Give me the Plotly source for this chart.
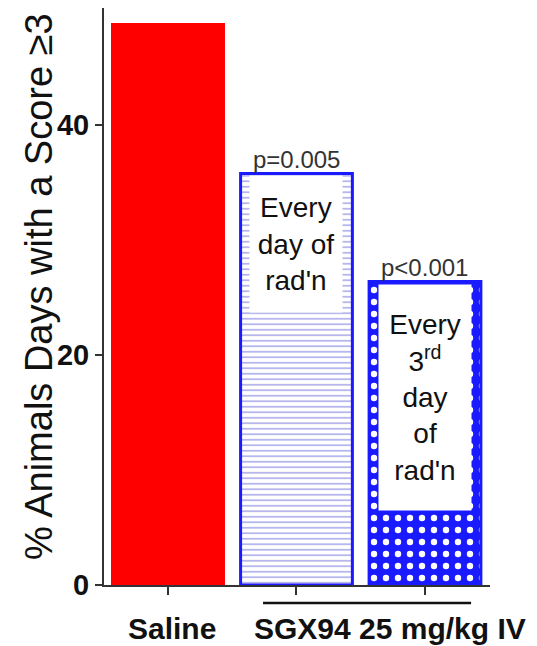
import plotly.graph_objects as go

# ---- data ----
categories = ["Saline", "SGX94 every day", "SGX94 every 3rd day"]
values = [48.9, 35.8, 26.4]
p_labels = ["", "p=0.005", "p<0.001"]
box_texts = ["", "Every<br>day of<br>rad'n", "Every<br>3<sup>rd</sup><br>day<br>of<br>rad'n"]
box_centers = [None, 29.65, 16.3]
box_heights = [0, 136, 225]
y_ticks = [0, 20, 40]
y_title = "% Animals Days with a Score \u22653"
group_labels = ["Saline", "SGX94 25 mg/kg IV"]

FONT = "Liberation Sans, Arial, sans-serif"

fig = go.Figure()

fig.add_trace(go.Bar(
    x=[categories[0]], y=[values[0]],
    width=0.887,
    marker=dict(color="#FF0000", line=dict(color="#FF0000", width=0)),
    showlegend=False,
))
fig.add_trace(go.Bar(
    x=[categories[1]], y=[values[1]],
    width=0.87,
    marker=dict(color="white", line=dict(color="#1a1aff", width=3),
                pattern=dict(shape="-", fgcolor="#6060d8", bgcolor="white",
                             size=5.5, solidity=0.3)),
    showlegend=False,
))
fig.add_trace(go.Bar(
    x=[categories[2]], y=[values[2]],
    width=0.87,
    marker=dict(color="#1a1aff", line=dict(color="#1a1aff", width=3),
                pattern=dict(shape=".", fgcolor="white", bgcolor="#1a1aff",
                             fgopacity=1, size=12, solidity=0.22)),
    showlegend=False,
))

annotations = []
for i in (1, 2):
    # p-value above bar
    annotations.append(dict(
        x=categories[i], y=values[i], xref="x", yref="y",
        text=p_labels[i], showarrow=False, yanchor="bottom", yshift=-1,
        font=dict(family=FONT, size=24, color="#333333"),
    ))
    # white text box inside bar
    annotations.append(dict(
        x=categories[i], y=box_centers[i], xref="x", yref="y",
        text=box_texts[i], showarrow=False, xanchor="center", yanchor="middle",
        width=92, height=box_heights[i], bgcolor="white", borderpad=0,
        valign="middle", align="center",
        font=dict(family=FONT, size=28, color="#111111"),
    ))

# y-axis title
annotations.append(dict(
    x=-0.17, y=0.517, xref="paper", yref="paper", text=y_title,
    textangle=-90, showarrow=False, xanchor="center", yanchor="middle",
    font=dict(family=FONT, size=38, color="#111111"),
))
# group labels below axis
annotations.append(dict(
    x=0, y=-0.076, xref="x", yref="paper", text="<b>%s</b>" % group_labels[0],
    showarrow=False, xanchor="center", yanchor="middle", xshift=4,
    font=dict(family=FONT, size=30, color="#111111"),
))
annotations.append(dict(
    x=0.741, y=-0.076, xref="paper", yref="paper", text="<b>%s</b>" % group_labels[1],
    showarrow=False, xanchor="center", yanchor="middle",
    font=dict(family=FONT, size=30, color="#111111"),
))

fig.update_layout(
    width=537, height=646,
    margin=dict(l=104, r=47, t=8, b=61),
    plot_bgcolor="white", paper_bgcolor="white",
    bargap=0.1,
    annotations=annotations,
    shapes=[dict(type="line", xref="paper", yref="paper",
                 x0=0.412, x1=0.951, y0=-0.031, y1=-0.031,
                 line=dict(color="#111111", width=2.5))],
    xaxis=dict(
        type="category", range=[-0.498, 2.506],
        showline=True, linecolor="#333333", linewidth=2,
        ticks="outside", ticklen=8, tickcolor="#333333", tickwidth=2,
        showticklabels=False, showgrid=False, zeroline=False,
    ),
    yaxis=dict(
        range=[0, 50.2], tickvals=y_ticks,
        showline=True, linecolor="#333333", linewidth=2,
        ticks="outside", ticklen=7, tickcolor="#333333", tickwidth=2,
        tickfont=dict(family=FONT, size=29, color="#111111", weight="bold"),
        showgrid=False, zeroline=False,
    ),
)

fig.write_html(
    "out.html",
    config={"displayModeBar": False},
    post_script="document.body.style.margin='0';document.body.style.overflow='hidden';",
)
